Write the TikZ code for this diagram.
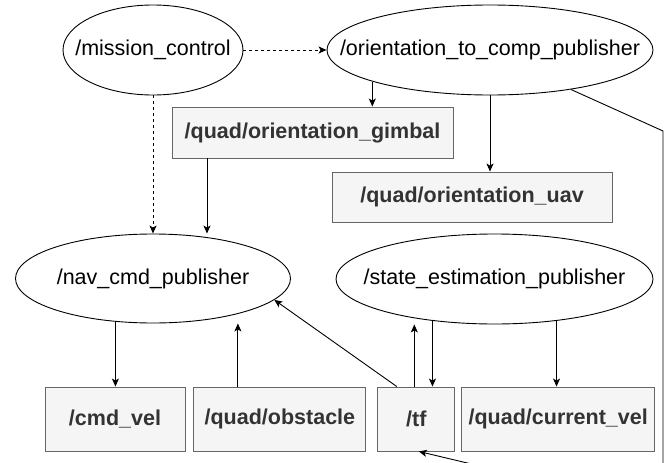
\documentclass[tikz,border=0pt]{standalone}
\usepackage{fontspec}
\setmainfont{Liberation Sans}
\usepackage{xcolor}
\usepackage{tikz}
\usetikzlibrary{shapes.geometric, arrows.meta, positioning}
\definecolor{topicfill}{HTML}{F5F5F5}
\definecolor{topicline}{HTML}{666666}
\definecolor{topictext}{HTML}{333333}
\tikzset{
  rosnode/.style={ellipse, draw=black, fill=white,
    inner sep=0pt, minimum height=90pt,
    font=\fontsize{21.5}{25}\selectfont, line width=0.9pt},
  topicbox/.style={rectangle, draw=topicline, fill=topicfill, text=topictext,
    inner sep=0pt, minimum height=64pt,
    font=\fontsize{21.5}{25}\selectfont\bfseries, line width=0.9pt},
  arrow/.style={-{Stealth[length=8pt, width=7pt, inset=2pt]}, line width=0.9pt, color=black},
  dasharrow/.style={arrow, dash pattern=on 3pt off 3pt},
  line/.style={line width=0.9pt, color=black}
}
\newcommand{\nodelabel}[1]{\makebox[0pt]{#1}}

\begin{document}
\begin{tikzpicture}[x=1pt, y=-1pt]
  \useasboundingbox (0,0) rectangle (667,463);
  \clip (0,0) rectangle (667,463);

  \node (mission) [rosnode, minimum width=180pt] at (153,50) {\nodelabel{/mission\_control}};
  \node (orient) [rosnode, minimum width=326pt] at (490,50) {\nodelabel{/orientation\_to\_comp\_publisher}};
  \node (gimbal) [topicbox, minimum width=281pt, minimum height=51pt] at (312.5,132.5) {/quad/orientation\_gimbal};
  \node (uav) [topicbox, minimum width=280pt, minimum height=50pt] at (472,197) {/quad/orientation\_uav};
  \node (nav) [rosnode, minimum width=275pt, minimum height=89pt] at (153,278.5) {\nodelabel{/nav\_cmd\_publisher}};
  \node (state) [rosnode, minimum width=317pt] at (494.5,279) {\nodelabel{/state\_estimation\_publisher}};
  \node (cmdvel) [topicbox, minimum width=140pt] at (115,419) {/cmd\_vel};
  \node (obstacle) [topicbox, minimum width=172pt, right=8pt of cmdvel] {/quad/obstacle};
  \node (tf) [topicbox, minimum width=77pt, right=11pt of obstacle] {/tf};
  \node (curvel) [topicbox, minimum width=193pt, right=6pt of tf] {/quad/current\_vel};

  % route of the long connector on the right
  \coordinate (bend1) at (663,131);
  \coordinate (bend2) at (663,472);
  \coordinate (bend3) at (505,472);

  \draw [dasharrow] (mission) -- (orient);
  \draw [dasharrow] (mission) -- (nav);
  \draw [arrow] (orient.195.5) -- (orient.195.5 |- gimbal.north);
  \draw [arrow] (orient.south) -- (orient.south |- uav.north);
  \draw [arrow] ([xshift=-105.5pt]gimbal.south) -- ([xshift=-105.5pt]gimbal.south |- nav.north);
  \draw [arrow] (nav.229) -- (nav.229 |- cmdvel.north);
  \draw [arrow] ([xshift=-42pt]obstacle.north) -- ([xshift=-42pt]obstacle.north |- nav.south);
  \draw [arrow] ([xshift=-19.5pt]tf.north) -- (nav.-10);
  \draw [arrow] ([xshift=-2pt]tf.north) -- ([xshift=-2pt]tf.north |- state.south);
  \draw [arrow] (state.214) -- (state.214 |- tf.north);
  \draw [arrow] (state.326.5) -- (state.326.5 |- curvel.north);
  \draw [arrow] (orient.334.6) -- (bend1) -- (bend2) -- (bend3) -- ([xshift=2.5pt]tf.south);
\end{tikzpicture}
\end{document}
